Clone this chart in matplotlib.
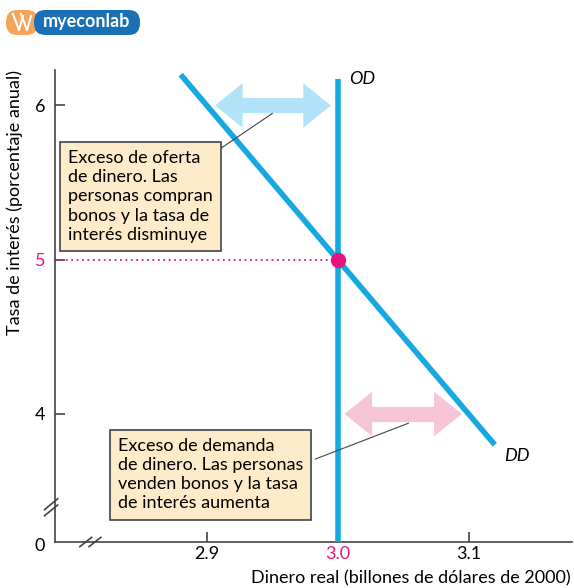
import numpy as np
import matplotlib
matplotlib.use("Agg")
import matplotlib.pyplot as plt
from matplotlib.patches import FancyBboxPatch, FancyArrowPatch

plt.rcParams['font.family'] = ['Lato', 'DejaVu Sans']

# datos
x_ticks = [2.9, 3.0, 3.1]
x_tick_labels = ['2.9', '3.0', '3.1']
y_ticks = [4, 5, 6]
y_tick_labels = ['4', '5', '6']
dd_x = [2.88, 3.12]
dd_y = [6.2, 3.8]
od_x = [3.0, 3.0]
od_y = [3.17, 6.17]
eq_x, eq_y = 3.0, 5.0
exceso_oferta = [2.904, 2.997, 6.0]   # x0, x1, y
exceso_demanda = [3.003, 3.097, 4.0]

azul = '#16a8e0'
magenta = '#e8137d'
gris = '#444444'
caja = '#fdebc9'

fig = plt.figure(figsize=(5.74, 5.88), dpi=100)
ax = fig.add_axes([55/574, 46/588, 517/574, 472/588])
ax.set_xlim(2.784, 3.179)
ax.set_ylim(3.17, 6.23)

for s in ['top', 'right']:
    ax.spines[s].set_visible(False)
for s in ['left', 'bottom']:
    ax.spines[s].set_color(gris)
    ax.spines[s].set_linewidth(1.2)

ax.set_xticks(x_ticks)
ax.set_xticklabels(x_tick_labels, fontsize=13)
ax.set_yticks(y_ticks)
ax.set_yticklabels(y_tick_labels, fontsize=13)
ax.tick_params(direction='in', length=7, width=1.2, color=gris)
ax.tick_params(axis='y', pad=7)
ax.tick_params(axis='x', pad=3)
ax.get_xticklabels()[1].set_color(magenta)
ax.get_yticklabels()[1].set_color(magenta)

# curvas
ax.plot(dd_x, dd_y, color=azul, lw=4, solid_capstyle='butt', zorder=3)
ax.plot(od_x, od_y, color=azul, lw=4, solid_capstyle='butt', zorder=3)
ax.plot([2.784, eq_x], [eq_y, eq_y], color=magenta, lw=1.3, ls=(0, (1, 2)), zorder=2)
ax.plot(eq_x, eq_y, 'o', color=magenta, ms=10, zorder=5)

ax.text(3.009, 6.17, 'OD', fontsize=13, style='italic', va='center', ha='left')
ax.text(3.127, 3.73, 'DD', fontsize=13, style='italic', va='center', ha='left')

# flechas dobles
def flecha(x0, x1, y, col):
    a = FancyArrowPatch((x0, y), (x1, y), arrowstyle='<|-|>,head_length=1.0,head_width=0.8',
                        mutation_scale=20, lw=0, color=col, zorder=4)
    ax.add_patch(a)
    ax.plot([x0 + 0.019, x1 - 0.019], [y, y], color=col, lw=11, solid_capstyle='butt', zorder=4)

flecha(*exceso_oferta, '#b3e3f9')
flecha(*exceso_demanda, '#f7c5d8')

# cajas de texto
ax.text(2.794, 5.41, 'Exceso de oferta\nde dinero. Las\npersonas compran\nbonos y la tasa de\ninterés disminuye',
        fontsize=13, va='center', ha='left', linespacing=1.25, zorder=6,
        bbox=dict(boxstyle='square,pad=0.45', fc=caja, ec=gris, lw=1.2))
ax.text(2.832, 3.607, 'Exceso de demanda\nde dinero. Las personas\nvenden bonos y la tasa\nde interés aumenta',
        fontsize=13, va='center', ha='left', linespacing=1.25, zorder=6,
        bbox=dict(boxstyle='square,pad=0.45', fc=caja, ec=gris, lw=1.2))
ax.plot([2.9115, 2.950], [5.727, 5.948], color=gris, lw=0.8, zorder=5)
ax.plot([2.983, 3.054], [3.708, 3.94], color=gris, lw=0.8, zorder=5)

# cortes de eje
ax.plot([2.776, 2.786], [3.38, 3.45], color=gris, lw=1.2, clip_on=False, zorder=6)
ax.plot([2.776, 2.786], [3.34, 3.41], color=gris, lw=1.2, clip_on=False, zorder=6)
ax.plot([2.803, 2.812], [3.14, 3.2], color=gris, lw=1.2, clip_on=False, zorder=6)
ax.plot([2.81, 2.819], [3.14, 3.2], color=gris, lw=1.2, clip_on=False, zorder=6)
fig.text(40/574, 1 - 546/588, '0', fontsize=13, ha='center', va='center')

ax.set_ylabel('Tasa de interés (porcentaje anual)', fontsize=13)
ax.yaxis.set_label_coords(-0.062, 0.72)
fig.text(571/574, 1 - 578/588, 'Dinero real (billones de dólares de 2000)', fontsize=13,
         ha='right', va='center')

# logo
fig.patches.append(FancyBboxPatch((6/574, 1 - 35/588), 32/574, 25/588,
                                  boxstyle='round,pad=0,rounding_size=0.02',
                                  transform=fig.transFigure, fc='#f7a35c', ec='none'))
fig.patches.append(FancyBboxPatch((34/574, 1 - 35/588), 106/574, 25/588,
                                  boxstyle='round,pad=0,rounding_size=0.02',
                                  transform=fig.transFigure, fc='#1b6fb5', ec='none'))
for xs in ([13, 19, 23], [21, 27, 31]):
    fig.add_artist(plt.Line2D([xs[0]/574, xs[1]/574, xs[2]/574],
                              [1 - 14/588, 1 - 30/588, 1 - 16/588],
                              transform=fig.transFigure, color='white', lw=1.5))
fig.text(87/574, 1 - 22/588, 'myeconlab', fontsize=13, color='white', ha='center', va='center',
         fontweight='bold')

fig.savefig('out.png', dpi=100)
